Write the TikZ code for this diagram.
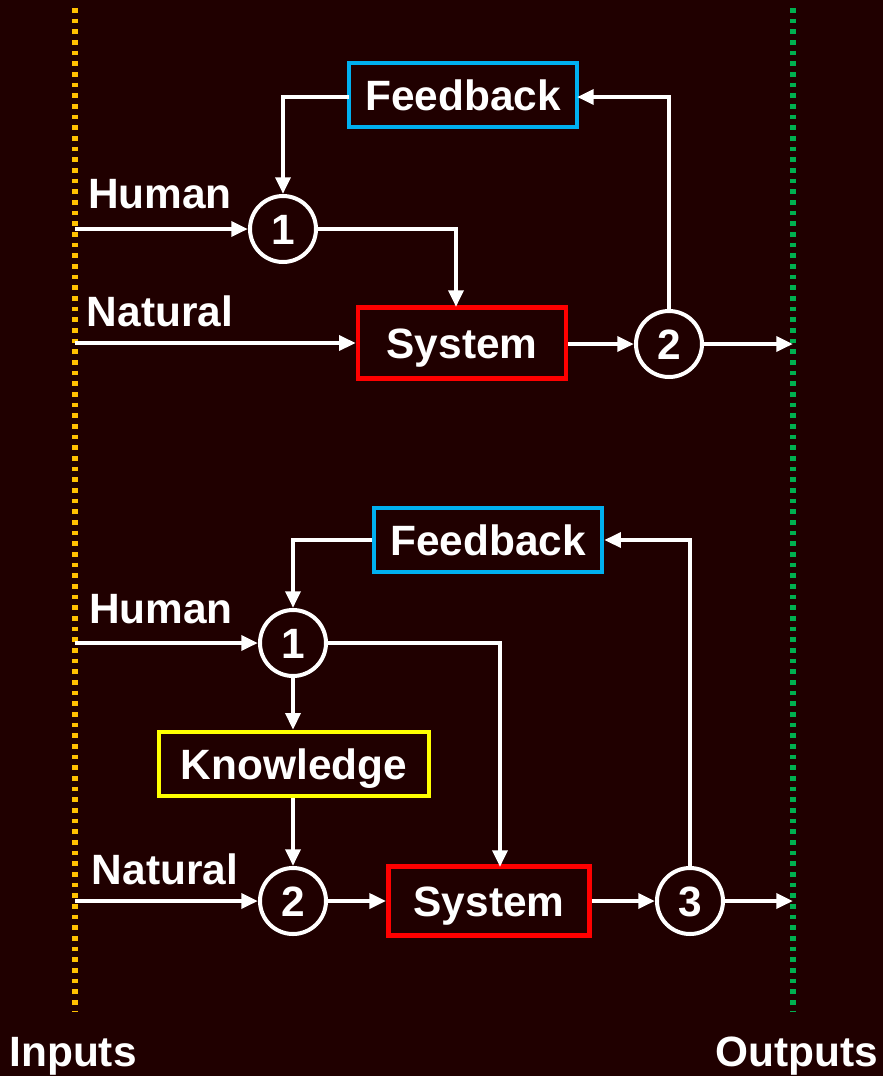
\documentclass[tikz,border=0pt]{standalone}
\usepackage{fontspec}
\setmainfont{Liberation Sans}
\usetikzlibrary{arrows.meta}
\definecolor{bgc}{HTML}{200000}
\definecolor{fbblue}{HTML}{00B0F0}
\definecolor{sysred}{HTML}{FF0000}
\definecolor{knyellow}{HTML}{FFFF00}
\definecolor{inorange}{HTML}{FFC000}
\definecolor{outgreen}{HTML}{00B050}
\tikzset{
  lbl/.style={text=white,font=\fontsize{31.8}{38}\selectfont\bfseries,inner sep=0pt,text height=22.8pt,text depth=0pt},
  boxnode/.style={lbl,draw,line width=3.3pt,rectangle,minimum height=48pt},
  sumnode/.style={lbl,draw=white,line width=3pt,circle,minimum size=49.5pt},
  flow/.style={draw=white,line width=3.2pt,-{Triangle[length=12.5pt,width=11pt]}},
  border/.style={line width=4pt,dash pattern=on 3.6pt off 4.4pt}
}
\begin{document}
\begin{tikzpicture}[x=0.75pt,y=-0.75pt]
\fill[bgc] (0,0) rectangle (883,1076);
\useasboundingbox (0,0) rectangle (883,1076);
% boundaries
\coordinate (inTop) at (75,8);
\coordinate (inBot) at (75,1012);
\coordinate (outTop) at (793,8);
\coordinate (outBot) at (793,1012);
\draw[border,inorange] (inTop) -- (inBot);
\draw[border,outgreen] (outTop) -- (outBot);
\node[lbl] (inputs) at (73,1051) {Inputs};
\node[lbl] (outputs) at (797,1051) {Outputs};
% ---- top diagram
\node[boxnode,draw=fbblue,minimum width=171pt] (fb1) at (463,95) {Feedback};
\node[sumnode] (c11) at (283,229) {1};
\node[boxnode,draw=sysred,minimum width=156pt,minimum height=53pt] (sys1) at (462,343) {System};
\node[sumnode] (c12) at (669,344) {2};
\node[lbl] (hum1) at (160,193) {Human};
\node[lbl] (nat1) at (160,311) {Natural};
\coordinate (hin1) at (75,229);
\coordinate (nin1) at (75,343);
\coordinate (out1) at (793,344);
\coordinate (fbW1) at (349,97);
\coordinate (fbE1) at (577,97);
\coordinate (sysT1) at (456,307);
\draw[flow] (hin1) -- (c11.west);
\draw[flow] (nin1) -- (sys1.west);
\draw[flow] (fbW1) -| (c11.north);
\draw[flow] (c11.east) -| (sysT1);
\draw[flow] (sys1.east |- c12) -- (c12.west);
\draw[flow] (c12.north) |- (fbE1);
\draw[flow] (c12.east) -- (out1);
% ---- bottom diagram
\node[boxnode,draw=fbblue,minimum width=171pt] (fb2) at (488,540) {Feedback};
\node[sumnode] (c21) at (293,643) {1};
\node[boxnode,draw=knyellow,minimum width=202.5pt] (kn) at (294,764) {Knowledge};
\node[sumnode] (c22) at (293,901) {2};
\node[boxnode,draw=sysred,minimum width=151pt,minimum height=52pt] (sys2) at (489,901) {System};
\node[sumnode] (c23) at (690,901) {3};
\node[lbl] (hum2) at (161,608) {Human};
\node[lbl] (nat2) at (165,869) {Natural};
\coordinate (hin2) at (75,643);
\coordinate (nin2) at (75,901);
\coordinate (out2) at (793,901);
\coordinate (sysT2) at (500,867);
\draw[flow] (hin2) -- (c21.west);
\draw[flow] (nin2) -- (c22.west);
\draw[flow] (fb2.west) -| (c21.north);
\draw[flow] (c21.south) -- (kn.north -| c21.south);
\draw[flow] (kn.south -| c22.north) -- (c22.north);
\draw[flow] (c21.east) -| (sysT2);
\draw[flow] (c22.east) -- (sys2.west);
\draw[flow] (sys2.east) -- (c23.west);
\draw[flow] (c23.north) |- (fb2.east);
\draw[flow] (c23.east) -- (out2);
\end{tikzpicture}
\end{document}
